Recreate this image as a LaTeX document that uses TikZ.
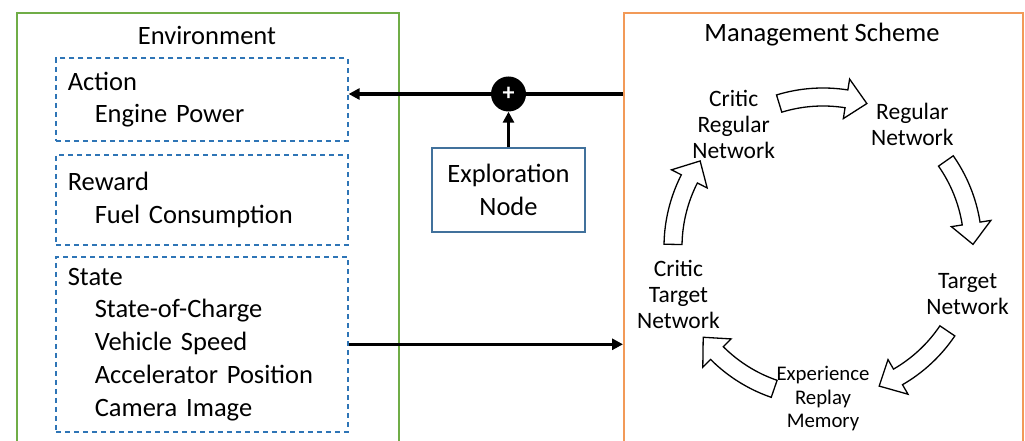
\documentclass[tikz,border=0pt]{standalone}
\usepackage{fontspec}
\setmainfont{Carlito}
\usetikzlibrary{arrows.meta}

\definecolor{envgreen}{HTML}{70AD47}
\definecolor{mgmtorange}{HTML}{F29A58}
\definecolor{boxblue}{HTML}{2E75B6}
\definecolor{explblue}{HTML}{41719C}

\begin{document}
\begin{tikzpicture}[x=1pt, y=1pt]
  \useasboundingbox (0, 0) rectangle (1025, 441);
  \tikzstyle{frame}=[draw, line width=2pt, minimum height=460pt, anchor=north west, inner sep=0pt]
  \tikzstyle{title}=[font=\fontsize{26.5}{32.7}\selectfont]
  \tikzstyle{group}=[draw=boxblue, line width=1.6pt, dash pattern=on 5pt off 4pt, anchor=north west,
                     text width=268pt, inner xsep=12pt, inner ysep=0pt, align=left,
                     font=\fontsize{26.5}{32.7}\selectfont]
  \tikzstyle{cyc}=[align=center, font=\fontsize{23.5}{26}\selectfont]
  \tikzstyle{flow}=[line width=3.3pt, -{Triangle[length=11pt, width=11pt]}]
  \tikzstyle{hollow}=[draw, line width=1.3pt, fill=white, line join=miter]

  % Rahmen laufen unten aus dem Bild.
  \node[frame, draw=envgreen,   minimum width=382pt] (env)  at (16,  429) {};
  \node[frame, draw=mgmtorange, minimum width=399pt] (mgmt) at (623, 429) {};
  \node[title] (envtitle)  at (207, 406) {Environment};
  \node[title] (mgmttitle) at (822, 406) {Management Scheme};

  \node[group, minimum height=82.5pt] (action) at (55, 383.5) {Action\\\hspace*{27pt}Engine Power};
  \node[group, minimum height=90pt]   (reward) at (55, 287)   {Reward\\\hspace*{27pt}Fuel Consumption};
  \node[group, minimum height=175pt]  (state)  at (55, 185)   {State\\\hspace*{27pt}State-of-Charge\\
    \hspace*{27pt}Vehicle Speed\\\hspace*{27pt}Accelerator Position\\\hspace*{27pt}Camera Image};

  \node[draw=explblue, line width=1.8pt, minimum width=153pt, minimum height=84pt, align=center,
        font=\fontsize{26.5}{32.7}\selectfont] (explore) at (508.5, 251) {Exploration\\Node};
  \node[circle, fill=black, minimum size=35pt, inner sep=0pt, text=white,
        font=\fontsize{24}{24}\selectfont\bfseries] (plus) at (508.5, 347) {+};

  \draw[line width=3.3pt] (mgmt.west |- plus) -- (plus);
  \draw[flow] (plus) -- (plus -| action.east);
  \draw[flow] (explore) -- (plus);
  \draw[flow] (state.east) -- (state.east -| mgmt.west);

  % Kreislauf im Management-Block, Pfeile zuerst.
  \coordinate (ctr) at (823, 194);
  \foreach \a in {90, 18, -51, -126, 162}
    \draw[hollow] ([shift={(\a+17:159)}]ctr) arc[start angle=\a+17, end angle=\a-9, radius=159]
      -- ([shift={(\a-9:170)}]ctr) -- ([shift={(\a-17:150)}]ctr) -- ([shift={(\a-9:130)}]ctr)
      -- ([shift={(\a-9:141)}]ctr) arc[start angle=\a-9, end angle=\a+17, radius=141] -- cycle;

  \node[cyc] (critreg) at ([shift={(126:152)}]ctr) {Critic\\Regular\\Network};
  \node[cyc] (reg)     at ([shift={(54:152)}]ctr)  {Regular\\Network};
  \node[cyc] (targ)    at ([shift={(-18:152)}]ctr) {Target\\Network};
  \node[cyc, font=\fontsize{20.8}{23.5}\selectfont] (replay) at ([shift={(-90:152)}]ctr) {Experience\\Replay\\Memory};
  \node[cyc] (crittarg) at ([shift={(198:152)}]ctr) {Critic\\Target\\Network};
\end{tikzpicture}
\end{document}
